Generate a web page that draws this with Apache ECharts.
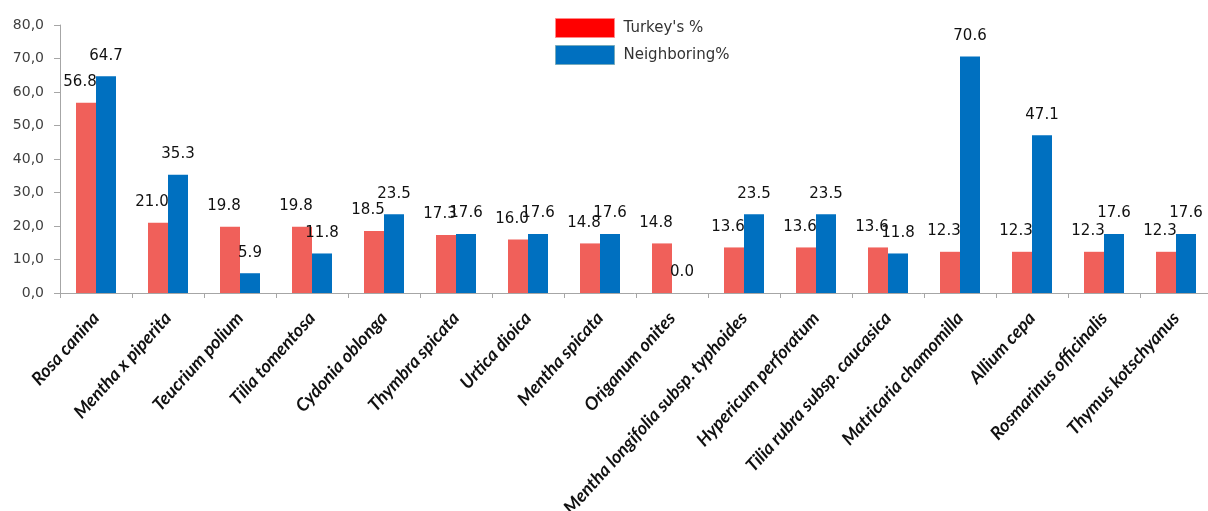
<!DOCTYPE html>
<html><head><meta charset="utf-8">
<script src="https://cdn.jsdelivr.net/npm/echarts@6/dist/echarts.min.js"></script>
<style>html,body{margin:0;padding:0;background:#fff}#c{width:1208px;height:511px}</style>
</head><body><div id="c"></div>
<script>
const categories = ["Rosa canina","Mentha x piperita","Teucrium polium","Tilia tomentosa","Cydonia oblonga","Thymbra spicata","Urtica dioica","Mentha spicata","Origanum onites","Mentha longifolia subsp. typhoides","Hypericum perforatum","Tilia rubra subsp. caucasica","Matricaria chamomilla","Allium cepa","Rosmarinus officinalis","Thymus kotschyanus"];
const turkey = [56.8,21.0,19.8,19.8,18.5,17.3,16.0,14.8,14.8,13.6,13.6,13.6,12.3,12.3,12.3,12.3];
const neighboring = [64.7,35.3,5.9,11.8,23.5,17.6,17.6,17.6,0.0,23.5,23.5,11.8,70.6,47.1,17.6,17.6];
const seriesNames = ["Turkey's %","Neighboring%"];

const chart = echarts.init(document.getElementById('c'));
const lbl = {show:true, position:'top', distance:13, fontFamily:'DejaVu Sans', fontSize:15, color:'#111', formatter:p=>p.value.toFixed(1)};
chart.setOption({
  animation:false,
  legend:{orient:'vertical', left:550, top:13, itemWidth:59, itemHeight:19, itemGap:7, icon:'rect',
    textStyle:{fontFamily:'DejaVu Sans', fontSize:15, color:'#333', padding:[0,0,0,4]},
    data:[{name:seriesNames[0], itemStyle:{color:'#ff0000', borderColor:'#f88', borderWidth:1}},
          {name:seriesNames[1], itemStyle:{color:'#0070c0', borderColor:'#7ab', borderWidth:1}}]},
  grid:{left:60, right:-4, top:25, bottom:218, containLabel:false, outerBoundsMode:'none'},
  xAxis:{type:'category', data:categories,
    axisLine:{lineStyle:{color:'#a6a6a6'}},
    axisTick:{show:true, length:5, lineStyle:{color:'#a6a6a6'}},
    axisLabel:{interval:0, rotate:48, margin:22, fontFamily:'Lato', fontStyle:'italic', fontWeight:'bold', fontSize:18, color:'#111'}},
  yAxis:{type:'value', min:0, max:80, interval:10,
    axisLine:{show:true, lineStyle:{color:'#a6a6a6'}},
    axisTick:{show:true, length:6, lineStyle:{color:'#a6a6a6'}},
    splitLine:{show:false},
    axisLabel:{fontFamily:'DejaVu Sans', fontSize:14, color:'#404040', margin:16, formatter:v=>v.toFixed(1).replace('.',',')}},
  series:[
    {name:seriesNames[0], type:'bar', data:turkey, barWidth:20, barGap:'0%',
     itemStyle:{color:'#f0605a'}, label:Object.assign({}, lbl, {offset:[-6,0]})},
    {name:seriesNames[1], type:'bar', data:neighboring, barWidth:20,
     itemStyle:{color:'#0070c0'}, label:lbl}
  ]
});
</script></body></html>
